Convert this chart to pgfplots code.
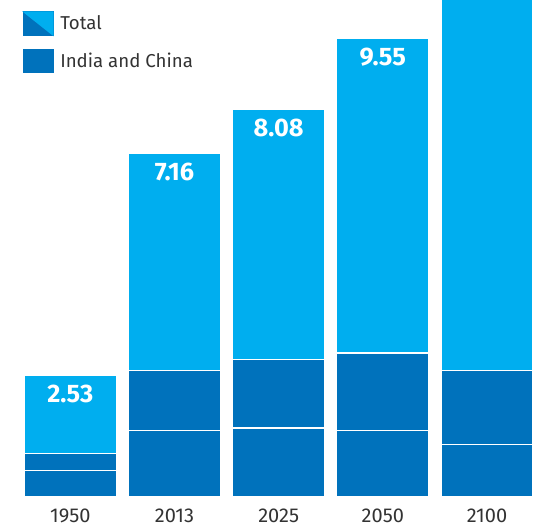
\documentclass[border=0pt]{standalone}
\usepackage{fontspec}
\setmainfont{Fira Sans}
\usepackage{pgfplots}
\pgfplotsset{compat=1.18}
\definecolor{lightb}{HTML}{00AEEF}
\definecolor{darkb}{HTML}{0072BC}
\definecolor{txt}{HTML}{333333}

\begin{document}
\begin{tikzpicture}
\begin{axis}[
    scale only axis,
    width=399.75pt, height=372.75pt,
    xmin=-0.6747, xmax=4.4415,
    ymin=0, ymax=10.354,
    clip mode=individual,
    axis line style={draw=none},
    tick style={draw=none},
    ytick=\empty,
    xtick={0,1,2,3,4},
    xticklabels={1950,2013,2025,2050,2100},
    xticklabel style={anchor=north, inner sep=0pt, yshift=-4.5pt,
        font=\fontsize{15}{17}\selectfont, text=txt},
    ybar, bar width=0.883,
    legend style={at={(0,1)}, anchor=north west, xshift=17.25pt, yshift=-8.25pt,
        draw=none, fill=none, inner sep=0pt, row sep=10pt, column sep=5pt,
        font=\fontsize{14}{16}\selectfont, text=txt, nodes={inner sep=0pt}},
    legend cell align=left,
]
% total population, billions
\addplot[bar shift=0pt, fill=lightb, draw=white, line width=1pt,
    point meta=explicit symbolic, nodes near coords,
    every node near coord/.append style={anchor=north, inner sep=0pt, yshift=-6.75pt,
        text=white, font=\fontsize{19}{22}\selectfont\bfseries},
    legend image code/.code={
        \fill[darkb] (0pt,-8.625pt) rectangle (21.75pt,8.625pt);
        \fill[lightb] (0pt,8.625pt) -- (21.75pt,8.625pt) -- (21.75pt,-8.625pt) -- cycle;
    }] coordinates {
    (0,2.53) [2.53] (1,7.16) [7.16] (2,8.08) [8.08] (3,9.55) [9.55] (4,10.85) [10.85]
};
% India + China
\addplot[bar shift=0pt, fill=darkb, draw=white, line width=1pt,
    legend image code/.code={
        \fill[darkb] (0pt,-8.625pt) rectangle (21.75pt,8.625pt);
    }] coordinates {
    (0,0.91) (1,2.63) (2,2.86) (3,3.00) (4,2.63)
};
% China alone (lower segment)
\addplot[bar shift=0pt, fill=darkb, draw=white, line width=1pt, forget plot] coordinates {
    (0,0.55) (1,1.38) (2,1.44) (3,1.38) (4,1.09)
};
\legend{Total, India and China}
\end{axis}
\pgfresetboundingbox
\path[use as bounding box] (current axis.south west) ++(0pt,-25.5pt) rectangle ++(399.75pt,398.25pt);
\end{tikzpicture}
\end{document}
